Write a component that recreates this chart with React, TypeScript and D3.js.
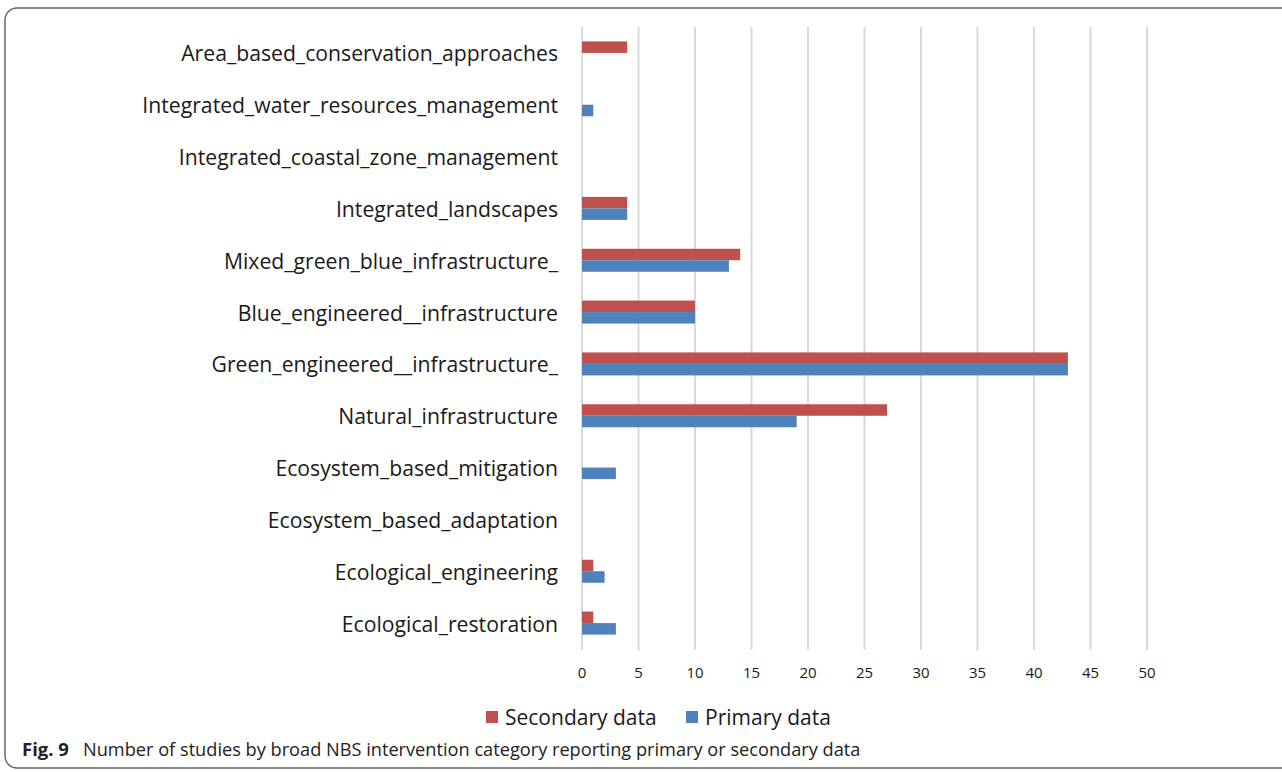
import * as d3 from "d3";

const categories = [
  "Area_based_conservation_approaches",
  "Integrated_water_resources_management",
  "Integrated_coastal_zone_management",
  "Integrated_landscapes",
  "Mixed_green_blue_infrastructure_",
  "Blue_engineered__infrastructure",
  "Green_engineered__infrastructure_",
  "Natural_infrastructure",
  "Ecosystem_based_mitigation",
  "Ecosystem_based_adaptation",
  "Ecological_engineering",
  "Ecological_restoration",
];

const secondaryData = [4, 0, 0, 4, 14, 10, 43, 27, 0, 0, 1, 1];
const primaryData = [0, 1, 0, 4, 13, 10, 43, 19, 3, 0, 2, 3];

const seriesNames = ["Secondary data", "Primary data"];
const seriesColors = ["#C0504D", "#4F81BD"];
const xTicks = [0, 5, 10, 15, 20, 25, 30, 35, 40, 45, 50];

const labelFont = "'Open Sans', sans-serif";

export default function App() {
  const width = 1282;
  const height = 772;
  const x = d3.scaleLinear().domain([0, 50]).range([582, 1147]);
  const y = d3.scaleBand().domain(categories).range([27, 649]).padding(0);
  const inner = d3.scaleBand().domain(seriesNames).range([-11.5, 11.5]).padding(0);

  const rows = categories.map((c, i) => ({
    cat: c,
    values: [secondaryData[i], primaryData[i]],
  }));

  return (
    <svg
      width={width}
      height={height}
      style={{ position: "absolute", left: 0, top: 0, background: "#fff" }}
    >
      <rect x={5} y={8} width={1300} height={760} rx={12} fill="#fff" stroke="#666" strokeWidth={1.5} />

      {/* gridlines */}
      {xTicks.map((t) => (
        <line key={t} x1={x(t)} x2={x(t)} y1={27} y2={650} stroke="#D9D9D9" strokeWidth={2} />
      ))}

      {/* bars */}
      {rows.map((r) => {
        const cy = (y(r.cat) || 0) + y.bandwidth() / 2;
        return (
          <g key={r.cat}>
            {r.values.map((v, j) =>
              v > 0 ? (
                <rect
                  key={j}
                  x={x(0)}
                  y={cy + (inner(seriesNames[j]) || 0)}
                  width={x(v) - x(0)}
                  height={inner.bandwidth()}
                  fill={seriesColors[j]}
                />
              ) : null
            )}
            <text
              x={558}
              y={cy}
              textAnchor="end"
              dominantBaseline="central"
              fontFamily={labelFont}
              fontSize={21.2}
              fill="#1a1a1a"
            >
              {r.cat}
            </text>
          </g>
        );
      })}

      {/* x tick labels */}
      {xTicks.map((t) => (
        <text
          key={t}
          x={x(t)}
          y={672}
          textAnchor="middle"
          dominantBaseline="central"
          fontFamily={labelFont}
          fontSize={15}
          fill="#1a1a1a"
        >
          {t}
        </text>
      ))}

      {/* legend */}
      {seriesNames.map((s, i) => {
        const lx = i === 0 ? 486 : 686;
        return (
          <g key={s}>
            <rect x={lx} y={711} width={12} height={12} fill={seriesColors[i]} />
            <text
              x={lx + 19}
              y={717}
              dominantBaseline="central"
              fontFamily={labelFont}
              fontSize={21}
              fill="#1a1a1a"
            >
              {s}
            </text>
          </g>
        );
      })}

      {/* caption */}
      <text x={22} y={756} fontFamily="'Open Sans', sans-serif" fontSize={18.5} fontWeight="bold" fill="#222">
        Fig. 9
      </text>
      <text x={83} y={756} fontFamily="'Open Sans', sans-serif" fontSize={18.2} fill="#222">
        Number of studies by broad NBS intervention category reporting primary or secondary data
      </text>
    </svg>
  );
}
